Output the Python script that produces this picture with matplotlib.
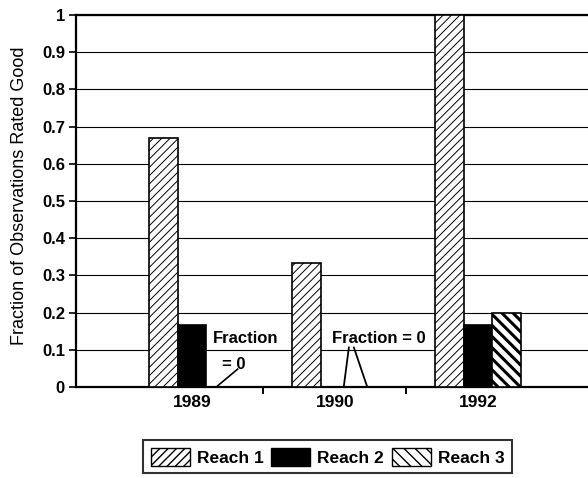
import numpy as np
import matplotlib.pyplot as plt
from matplotlib.patches import Patch

plt.rcParams['font.family'] = ['Liberation Sans', 'DejaVu Sans']

years = ['1989', '1990', '1992']
reach_names = ['Reach 1', 'Reach 2', 'Reach 3']
reach1 = [0.67, 0.333, 1.0]
reach2 = [0.167, 0.0, 0.167]
reach3 = [0.0, 0.0, 0.2]
y_ticks = [0, 0.1, 0.2, 0.3, 0.4, 0.5, 0.6, 0.7, 0.8, 0.9, 1]
y_labels = ['0', '0.1', '0.2', '0.3', '0.4', '0.5', '0.6', '0.7', '0.8', '0.9', '1']

fig = plt.figure(figsize=(5.88, 4.78), dpi=100)
ax = fig.add_axes([76 / 588, 1 - 387 / 478, 1 - 76 / 588, (387 - 15) / 478])

x = np.arange(len(years))
w = 0.2
styles = [dict(facecolor='white', hatch='////', hlw=0.7),
          dict(facecolor='black', hatch=None, hlw=0.7),
          dict(facecolor='white', hatch='\\\\\\', hlw=2.2)]

for i, (vals, st) in enumerate(zip([reach1, reach2, reach3], styles)):
    with plt.rc_context({'hatch.linewidth': st['hlw']}):
        bars = ax.bar(x + (i - 1) * w, vals, w, facecolor=st['facecolor'],
                      edgecolor='black', linewidth=1.2, hatch=st['hatch'],
                      zorder=3)
        for b in bars:
            if b.get_height() == 0:
                b.set_visible(False)

ax.set_xlim(-0.81, 2.77)
ax.set_ylim(0, 1)
ax.set_yticks(y_ticks)
ax.set_yticklabels(y_labels, fontsize=12, fontweight='bold')
ax.yaxis.grid(True, color='black', linewidth=0.8, zorder=0)
ax.set_axisbelow(True)

ax.set_xticks(x)
ax.set_xticklabels(years, fontsize=12.5, fontweight='bold')
ax.tick_params(axis='x', which='major', length=0, pad=6)
ax.set_xticks([0.5, 1.5], minor=True)
ax.tick_params(axis='x', which='minor', length=5, width=1.4, direction='out')
ax.tick_params(axis='y', length=5, width=1.2, direction='out', pad=3)

for s in ['left', 'bottom', 'top']:
    ax.spines[s].set_linewidth(1.6)
ax.spines['right'].set_visible(False)

ax.set_ylabel('Fraction of Observations Rated Good', fontsize=13)
ax.yaxis.set_label_coords(-0.094, 0.513)

# zero-value callouts
ax.text(0.147, 0.13, 'Fraction', fontsize=12, fontweight='bold', ha='left', va='center')
ax.text(0.21, 0.06, '= 0', fontsize=12, fontweight='bold', ha='left', va='center')
ax.plot([0.18, 0.32], [0.003, 0.048], color='black', lw=1.2, zorder=4)

ax.text(0.979, 0.13, 'Fraction = 0', fontsize=12, fontweight='bold', ha='left', va='center')
ax.plot([1.098, 1.063], [0.106, 0.003], color='black', lw=1.3, zorder=4)
ax.plot([1.133, 1.224], [0.106, 0.003], color='black', lw=1.3, zorder=4)

handles = []
for name, st in zip(reach_names, styles):
    with plt.rc_context({'hatch.linewidth': st['hlw']}):
        handles.append(Patch(facecolor=st['facecolor'], edgecolor='black',
                             hatch=st['hatch'], label=name))
leg = fig.legend(handles=handles, loc='upper left', ncol=3,
                 bbox_to_anchor=(143 / 588, 1 - 440 / 478), frameon=True,
                 fancybox=False, edgecolor='black',
                 prop={'weight': 'bold', 'size': 12.5}, handlelength=2.25,
                 handleheight=1.2, columnspacing=0.45, handletextpad=0.4,
                 borderpad=0.45, borderaxespad=0)
leg.get_frame().set_linewidth(1.5)

fig.savefig('out.png', dpi=100)
